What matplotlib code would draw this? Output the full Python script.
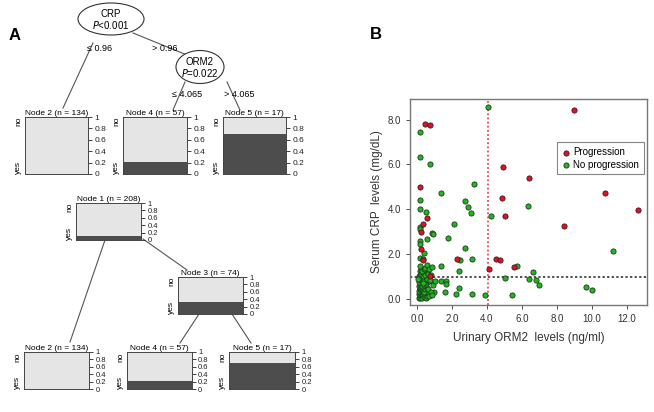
import numpy as np
import matplotlib
matplotlib.use("Agg")
import matplotlib.pyplot as plt
from matplotlib.patches import Ellipse

plt.rcParams['font.family'] = ['Liberation Sans', 'DejaVu Sans']

# ---- tree data (terminal / inner nodes) ----
node_ids = [1, 2, 3, 4, 5]
node_n = [208, 134, 74, 57, 17]
node_yes = [24, 0, 24, 12, 12]
split_vars = ["CRP", "ORM2"]
split_p = ["<0.001", "=0.022"]
split_cut = ["0.96", "4.065"]

# ---- scatter data ----
prog_x = [0.48, 0.76, 0.19, 0.55, 0.34, 0.25, 0.21, 0.32, 2.29, 0.74, 8.95, 4.93,
          6.38, 10.74, 4.86, 5.03, 12.66, 8.43, 4.51, 4.76, 4.13, 5.52]
prog_y = [7.80, 7.76, 4.99, 3.59, 3.35, 3.00, 2.20, 1.72, 1.79, 1.00, 8.43, 5.89,
          5.37, 4.70, 4.51, 3.70, 3.96, 3.25, 1.78, 1.72, 1.34, 1.41]

noprog_x = [0.15, 0.15, 0.72, 4.06, 3.24, 1.37, 0.19, 2.72, 0.17, 2.91, 0.49, 3.06,
            2.13, 0.15, 0.20, 0.83, 0.93, 0.59, 1.75, 0.15, 0.15, 0.40, 2.76, 0.19,
            2.47, 3.14, 1.35, 2.43, 1.37, 1.66, 1.66, 2.38, 2.21, 3.16, 3.90, 1.60,
            6.32, 4.23, 11.23, 5.69, 6.61, 5.01, 6.42, 6.83, 6.97, 9.66, 10.00, 5.41,
            0.34,
            0.10, 0.15, 0.20, 0.25, 0.30, 0.12, 0.18, 0.22, 0.28, 0.35, 0.40, 0.45,
            0.50, 0.55, 0.60, 0.65, 0.70, 0.10, 0.15, 0.20, 0.25, 0.30, 0.35, 0.40,
            0.48, 0.55, 0.62, 0.12, 0.18, 0.24, 0.30, 0.38, 0.45, 0.52, 0.60, 0.68,
            0.10, 0.16, 0.22, 0.28, 0.34, 0.42, 0.50, 0.58, 0.75, 0.12, 0.18, 0.25,
            0.32, 0.40, 0.48, 0.55, 0.65, 0.80, 0.15, 0.22, 0.30, 0.38, 0.45, 0.60,
            0.70, 0.85, 0.90, 0.95, 1.05, 0.20, 0.08, 0.78, 0.85, 0.35]
noprog_y = [7.43, 6.31, 6.02, 8.55, 5.11, 4.70, 4.39, 4.36, 4.01, 4.08, 3.86, 3.81,
            3.35, 3.22, 3.10, 2.92, 2.90, 2.66, 2.72, 2.56, 2.44, 2.05, 2.28, 1.80,
            1.72, 1.79, 1.44, 1.23, 0.80, 0.80, 0.64, 0.50, 0.20, 0.20, 0.15, 0.30,
            4.14, 3.70, 2.12, 1.47, 1.19, 0.93, 0.87, 0.85, 0.62, 0.53, 0.38, 0.15,
            1.78,
            0.05, 0.10, 0.02, 0.12, 0.05, 0.20, 0.25, 0.30, 0.22, 0.18, 0.08, 0.15,
            0.05, 0.20, 0.10, 0.25, 0.12, 0.35, 0.42, 0.48, 0.38, 0.45, 0.40, 0.32,
            0.42, 0.50, 0.45, 0.55, 0.60, 0.65, 0.58, 0.62, 0.70, 0.65, 0.75, 0.80,
            0.75, 0.82, 0.88, 0.78, 0.90, 0.85, 0.95, 0.88, 0.85, 1.00, 1.05, 1.10,
            1.02, 1.15, 1.08, 1.20, 1.12, 1.05, 1.22, 1.28, 1.25, 1.32, 1.38, 1.50,
            1.35, 1.40, 0.60, 0.32, 0.80, 1.45, 0.90, 0.30, 0.15, 0.70]

W, H = 654, 412
fig = plt.figure(figsize=(W / 100, H / 100), dpi=100)


def px_axes(x0, y0, x1, y1):
    return fig.add_axes([x0 / W, 1 - y1 / H, (x1 - x0) / W, (y1 - y0) / H])


# overlay in pixel coordinates for tree edges, ellipses, panel letters
ov = fig.add_axes([0, 0, 1, 1])
ov.set_xlim(0, W)
ov.set_ylim(H, 0)
ov.axis("off")
ov.patch.set_alpha(0)

ov.text(15, 35, "A", fontsize=12, fontweight="bold", ha="center", va="center")
ov.text(376, 34, "B", fontsize=12, fontweight="bold", ha="center", va="center")

lc = "#555555"
# tree edges (top tree, then bottom tree)
segs = [((93, 43), (63, 108)), ((133, 33), (187, 55)),
        ((185, 82), (173, 110)), ((227, 82), (240, 110)),
        ((105, 240), (70, 342)), ((143, 239), (187, 270)),
        ((199, 314), (180, 343)), ((232, 314), (251, 343))]
for (a, b) in segs:
    ov.plot([a[0], b[0]], [a[1], b[1]], color=lc, lw=0.8)

for (cx, cy, w, h), var, p in zip([(111, 19, 66, 32), (200, 67, 48, 33)], split_vars, split_p):
    ov.add_patch(Ellipse((cx, cy), w, h, facecolor="white", edgecolor="#333333", lw=0.8, zorder=3))
    ov.text(cx, cy - 5, var, fontsize=7, ha="center", va="center", zorder=4)
    ov.text(cx, cy + 6, r"$\it{P}$" + p, fontsize=7, ha="center", va="center", zorder=4)

edge_fs = 6.5
ov.text(100, 48, "\u2264 " + split_cut[0], fontsize=edge_fs, ha="center", va="center")
ov.text(165, 48, "> " + split_cut[0], fontsize=edge_fs, ha="center", va="center")
ov.text(187, 94, "\u2264 " + split_cut[1], fontsize=edge_fs, ha="center", va="center")
ov.text(239, 94, "> " + split_cut[1], fontsize=edge_fs, ha="center", va="center")


def node_bar(box, idx, tick_fs):
    x0, y0, x1, y1 = box
    ax = px_axes(x0, y0, x1, y1)
    p = node_yes[idx] / node_n[idx]
    ax.bar([0], [p], width=1, color="#4d4d4d", bottom=0)
    ax.bar([0], [1 - p], width=1, color="#e5e5e5", bottom=p)
    ax.set_xlim(-0.5, 0.5)
    ax.set_ylim(0, 1)
    ax.set_xticks([])
    ax.yaxis.tick_right()
    ax.set_yticks([0, 0.2, 0.4, 0.6, 0.8, 1])
    ax.set_yticklabels(["0", "0.2", "0.4", "0.6", "0.8", "1"])
    ax.tick_params(axis="y", labelsize=tick_fs, length=3, pad=1.5, width=0.6, colors="#222222")
    for s in ax.spines.values():
        s.set_color("#444444")
        s.set_linewidth(0.7)
    ax.set_title("Node %d (n = %d)" % (node_ids[idx], node_n[idx]), fontsize=6, pad=0.5)
    ax.text(-0.04, 1, "no", transform=ax.transAxes, rotation=90, fontsize=6,
            ha="right", va="top")
    ax.text(-0.04, 0, "yes", transform=ax.transAxes, rotation=90, fontsize=6,
            ha="right", va="bottom")
    return ax


# top tree terminal nodes
node_bar((25, 117, 88, 174), 1, 6)
node_bar((123, 117, 187, 174), 3, 6)
node_bar((223, 117, 286, 174), 4, 6)
# bottom tree, all nodes as bars
node_bar((76, 203, 141, 240), 0, 5.5)
node_bar((178, 277, 243, 314), 2, 5.5)
node_bar((24, 352, 89, 389), 1, 5.5)
node_bar((127, 352, 192, 389), 3, 5.5)
node_bar((229, 352, 295, 389), 4, 5.5)

# ---- panel B scatter ----
ax = px_axes(410, 99, 647, 305)
ax.axvline(4.065, color="#e03030", ls=(0, (1.2, 1.5)), lw=1.1, zorder=1)
ax.axhline(0.96, color="#222222", ls=(0, (1.5, 1.5)), lw=1.1, zorder=1)
ax.scatter(noprog_x, noprog_y, s=14, c="#22b422", edgecolors="#1a3a1a", linewidths=0.6,
           label="No progression", zorder=3)
ax.scatter(prog_x, prog_y, s=14, c="#e0102a", edgecolors="#3a1a1a", linewidths=0.6,
           label="Progression", zorder=4)
ax.set_xlim(-0.4, 13.15)
ax.set_ylim(-0.28, 8.92)
ax.set_xticks(np.arange(0, 13, 2))
ax.set_xticklabels(["%.1f" % v for v in np.arange(0, 13, 2)])
ax.set_yticks(np.arange(0, 9, 2))
ax.set_yticklabels(["%.1f" % v for v in np.arange(0, 9, 2)])
ax.tick_params(labelsize=7, length=3, width=0.6, colors="#333333")
for s in ax.spines.values():
    s.set_color("#777777")
    s.set_linewidth(1.0)
ax.set_xlabel("Urinary ORM2  levels (ng/ml)", fontsize=8.5, color="#333333", labelpad=6)
ax.set_ylabel("Serum CRP  levels (mg/dL)", fontsize=8.5, color="#333333", labelpad=3)
handles, labels = ax.get_legend_handles_labels()
leg = ax.legend(handles[::-1], labels[::-1], loc="upper left", bbox_to_anchor=(0.619, 0.79),
                fontsize=7, frameon=True, fancybox=False, borderpad=0.5,
                handletextpad=0.2, labelspacing=0.25, borderaxespad=0, handlelength=1)
leg.get_frame().set_edgecolor("#666666")
leg.get_frame().set_linewidth(0.8)

fig.savefig("out.png", dpi=100)
